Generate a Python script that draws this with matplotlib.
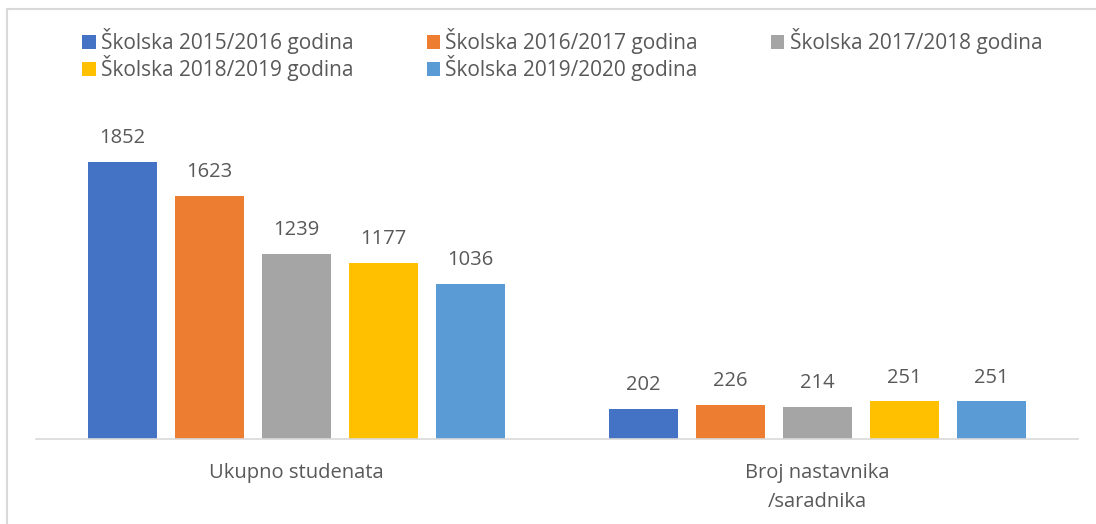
import matplotlib.pyplot as plt
import numpy as np
from matplotlib.patches import Rectangle

plt.rcParams['font.family'] = ['Open Sans', 'DejaVu Sans']

categories = ['Ukupno studenata', 'Broj nastavnika\n/saradnika']
series = ['Školska 2015/2016 godina', 'Školska 2016/2017 godina', 'Školska 2017/2018 godina',
          'Školska 2018/2019 godina', 'Školska 2019/2020 godina']
values = [
    [1852, 202],
    [1623, 226],
    [1239, 214],
    [1177, 251],
    [1036, 251],
]
colors = ['#4472C4', '#ED7D31', '#A5A5A5', '#FFC000', '#5B9BD5']
text_color = '#595959'

W, H = 1096, 524
fig = plt.figure(figsize=(W / 100, H / 100), dpi=100)
# plot area in pixels: left 36, right 1078, baseline 439, top 100
ax = fig.add_axes([36 / W, 1 - 439 / H, (1078 - 36) / W, (439 - 100) / H])

x = np.arange(len(categories))
width = 0.1325
step = 0.167
for i, (name, vals) in enumerate(zip(series, values)):
    b = ax.bar(x + (i - 2) * step, vals, width, color=colors[i], label=name)
    ax.bar_label(b, padding=10, fontsize=14.5, color=text_color)

ax.set_xlim(-0.5, 1.5)
ax.set_ylim(0, 339 / (277 / 1852))
ax.set_yticks([])
ax.set_xticks(x)
ax.set_xticklabels(categories, fontsize=14.5, color=text_color, linespacing=1.6)
ax.tick_params(axis='x', length=0, pad=17)
for s in ['top', 'right', 'left']:
    ax.spines[s].set_visible(False)
ax.spines['bottom'].set_color('#d9d9d9')
ax.spines['bottom'].set_linewidth(1.2)

handles, labels = ax.get_legend_handles_labels()
order = [0, 3, 1, 4, 2]
leg = fig.legend([handles[k] for k in order], [labels[k] for k in order],
                 loc='upper left', bbox_to_anchor=(74 / W, 1 - 20 / H), ncol=3,
                 frameon=False, fontsize=15, handlelength=0.65, handleheight=0.65,
                 handletextpad=0.25, columnspacing=3.5, labelspacing=0.05,
                 borderaxespad=0)
for t in leg.get_texts():
    t.set_color(text_color)

fig.patches.append(Rectangle((7 / W, -0.1), 1.2, 1.1 - 9 / H, transform=fig.transFigure,
                             fill=False, edgecolor='#d9d9d9', linewidth=1.5))

fig.savefig('out.png', dpi=100)
